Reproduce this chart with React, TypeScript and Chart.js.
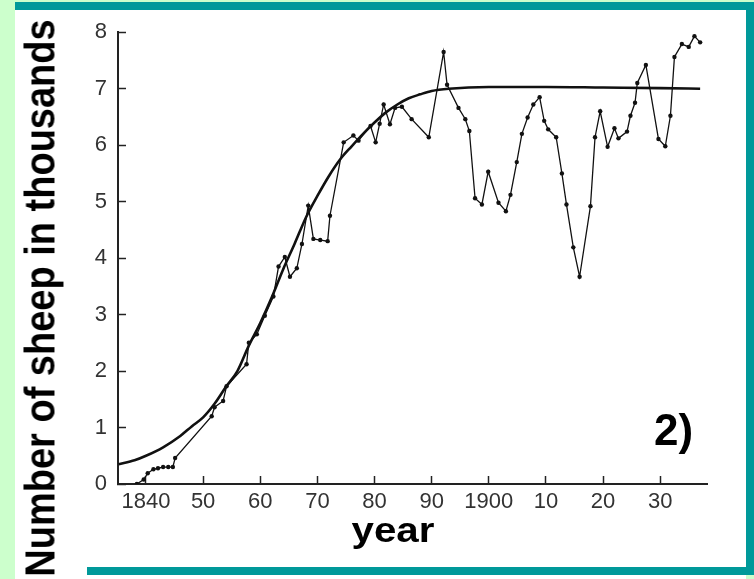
import React, { useEffect, useRef } from "react";
import { Chart, registerables } from "chart.js";

Chart.register(...registerables);

// Observed number of sheep (thousands) by year
const obsYears = [
  1838.4, 1839.6, 1840.3, 1841.3, 1842.1, 1843.0, 1843.9, 1844.7, 1845.1,
  1851.5, 1852.0, 1853.5, 1854.1, 1857.6, 1858.0, 1859.4, 1860.8, 1862.3,
  1863.2, 1864.3, 1865.2, 1866.4, 1867.3, 1868.4, 1869.3, 1870.5, 1871.8,
  1872.2, 1874.6, 1876.3, 1877.2, 1879.3, 1880.2, 1880.9, 1881.6, 1882.7,
  1883.6, 1884.8, 1886.5, 1889.5, 1892.1, 1892.7, 1894.7, 1895.9, 1896.6,
  1897.6, 1898.8, 1899.9, 1901.7, 1903.0, 1903.8, 1904.9, 1905.8, 1906.8,
  1907.8, 1908.9, 1909.7, 1910.4, 1911.8, 1912.8, 1913.6, 1914.8, 1915.9,
  1917.8, 1918.6, 1919.5, 1920.8, 1922.0, 1922.7, 1924.2, 1924.8, 1925.6,
  1926.0, 1927.5, 1929.7, 1930.9, 1931.8, 1932.5, 1933.8, 1935.0, 1936.0,
  1937.0,
];
const obsSheep = [
  0.0, 0.08, 0.19, 0.26, 0.28, 0.3, 0.3, 0.3, 0.46,
  1.2, 1.36, 1.47, 1.73, 2.12, 2.5, 2.65, 2.98, 3.32,
  3.85, 4.02, 3.67, 3.82, 4.25, 4.93, 4.34, 4.32, 4.3,
  4.75, 6.05, 6.17, 6.08, 6.34, 6.05, 6.38, 6.72, 6.37,
  6.66, 6.68, 6.46, 6.14, 7.65, 7.07, 6.66, 6.46, 6.25,
  5.06, 4.95, 5.53, 4.98, 4.83, 5.12, 5.7, 6.2, 6.49,
  6.72, 6.85, 6.43, 6.28, 6.14, 5.5, 4.95, 4.19, 3.67,
  4.92, 6.14, 6.6, 5.97, 6.3, 6.12, 6.24, 6.52, 6.75,
  7.1, 7.42, 6.11, 5.98, 6.52, 7.56, 7.79, 7.74, 7.93,
  7.82,
];

// Fitted (logistic-shaped) curve
const fitYears = [
  1835.2, 1838, 1840, 1843, 1846, 1848, 1850, 1852, 1854, 1856, 1858, 1860,
  1862, 1864, 1866, 1868, 1870, 1872, 1874, 1876, 1878, 1880, 1882, 1884,
  1886, 1888, 1890, 1893, 1900, 1910, 1920, 1930, 1937,
];
const fitSheep = [
  0.35, 0.42, 0.5, 0.65, 0.85, 1.02, 1.18, 1.42, 1.72, 2.0, 2.45, 2.85,
  3.3, 3.8, 4.25, 4.72, 5.1, 5.45, 5.75, 5.98, 6.2, 6.4, 6.58, 6.72,
  6.83, 6.9, 6.96, 7.0, 7.03, 7.03, 7.02, 7.01, 7.0,
];

const xTickYears = [1840, 1850, 1860, 1870, 1880, 1890, 1900, 1910, 1920, 1930];
const xTickLabels = ["1840", "50", "60", "70", "80", "90", "1900", "10", "20", "30"];
const yTickValues = [0, 1, 2, 3, 4, 5, 6, 7, 8];

const FONT = "'Liberation Sans', Arial, Helvetica, sans-serif";
const TEAL = "#00999a";
const LIGHT = "#ccffcc";
const AXIS = "#222222";

export default function App() {
  const canvasRef = useRef<HTMLCanvasElement | null>(null);

  useEffect(() => {
    const canvas = canvasRef.current;
    if (!canvas) return;
    const chart = new Chart(canvas, {
      type: "line",
      data: {
        datasets: [
          {
            data: fitYears.map((x, i) => ({ x, y: fitSheep[i] })),
            borderColor: "#111",
            borderWidth: 2.6,
            pointRadius: 0,
            cubicInterpolationMode: "monotone",
            fill: false,
          },
          {
            data: obsYears.map((x, i) => ({ x, y: obsSheep[i] })),
            borderColor: "#111",
            borderWidth: 1.3,
            pointRadius: 2.2,
            pointBorderWidth: 0,
            pointBackgroundColor: "#111",
            tension: 0,
            fill: false,
          },
        ],
      },
      options: {
        responsive: false,
        animation: false,
        layout: { padding: { left: 0, top: 25, right: 47, bottom: 0 } },
        plugins: { legend: { display: false }, tooltip: { enabled: false } },
        scales: {
          x: {
            type: "linear",
            min: 1835.1,
            max: 1938.2,
            afterFit: (s: any) => {
              s.height = 95;
            },
            afterBuildTicks: (s: any) => {
              s.ticks = xTickYears.map((v) => ({ value: v }));
            },
            ticks: {
              autoSkip: false,
              maxRotation: 0,
              padding: 13,
              color: "#333",
              font: { size: 22, family: FONT },
              callback: (_v: any, i: number) => xTickLabels[i],
            },
            grid: {
              drawOnChartArea: false,
              tickLength: -8,
              tickColor: AXIS,
              tickWidth: 1.5,
            },
            border: { color: AXIS, width: 2 },
          },
          y: {
            min: 0,
            max: 8,
            afterFit: (s: any) => {
              s.width = 118;
            },
            afterBuildTicks: (s: any) => {
              s.ticks = yTickValues.map((v) => ({ value: v }));
            },
            ticks: {
              padding: 19,
              color: "#333",
              font: { size: 22, family: FONT },
              callback: (v: any) => String(v),
            },
            grid: {
              drawOnChartArea: false,
              tickLength: -8,
              tickColor: AXIS,
              tickWidth: 1.5,
            },
            border: { color: AXIS, width: 2 },
          },
        },
      },
    } as any);
    return () => chart.destroy();
  }, []);

  const abs = (l: number, t: number, w: number, h: number, bg: string): React.CSSProperties => ({
    position: "absolute",
    left: l,
    top: t,
    width: w,
    height: h,
    background: bg,
  });

  return (
    <div
      style={{
        position: "fixed",
        left: 0,
        top: 0,
        width: 754,
        height: 579,
        overflow: "hidden",
        background: LIGHT,
        fontFamily: FONT,
      }}
    >
      <div style={abs(15, 9, 731, 570, "#ffffff")} />
      <div style={abs(15, 2, 739, 8, TEAL)} />
      <div style={abs(746, 2, 8, 573, TEAL)} />
      <div style={abs(87, 567, 667, 8, TEAL)} />
      <canvas
        ref={canvasRef}
        width={754}
        height={579}
        style={{ position: "absolute", left: 0, top: 0, width: 754, height: 579 }}
      />
      <div
        style={{
          position: "absolute",
          left: 40 - 300,
          top: 298 - 19,
          width: 600,
          height: 38,
          lineHeight: "38px",
          fontSize: 38,
          fontWeight: "bold",
          color: "#000",
          textAlign: "center",
          whiteSpace: "nowrap",
          transform: "rotate(-90deg) scaleY(1.12)",
          transformOrigin: "50% 50%",
        }}
      >
        Number of sheep in thousands
      </div>
      <div
        style={{
          position: "absolute",
          left: 293,
          top: 512,
          width: 200,
          height: 35,
          lineHeight: "35px",
          fontSize: 35,
          fontWeight: "bold",
          color: "#000",
          textAlign: "center",
          transform: "scaleX(1.15)",
        }}
      >
        year
      </div>
      <div
        style={{
          position: "absolute",
          left: 654,
          top: 408,
          height: 44,
          lineHeight: "44px",
          fontSize: 44,
          fontWeight: "bold",
          color: "#000",
          whiteSpace: "nowrap",
        }}
      >
        2)
      </div>
    </div>
  );
}
